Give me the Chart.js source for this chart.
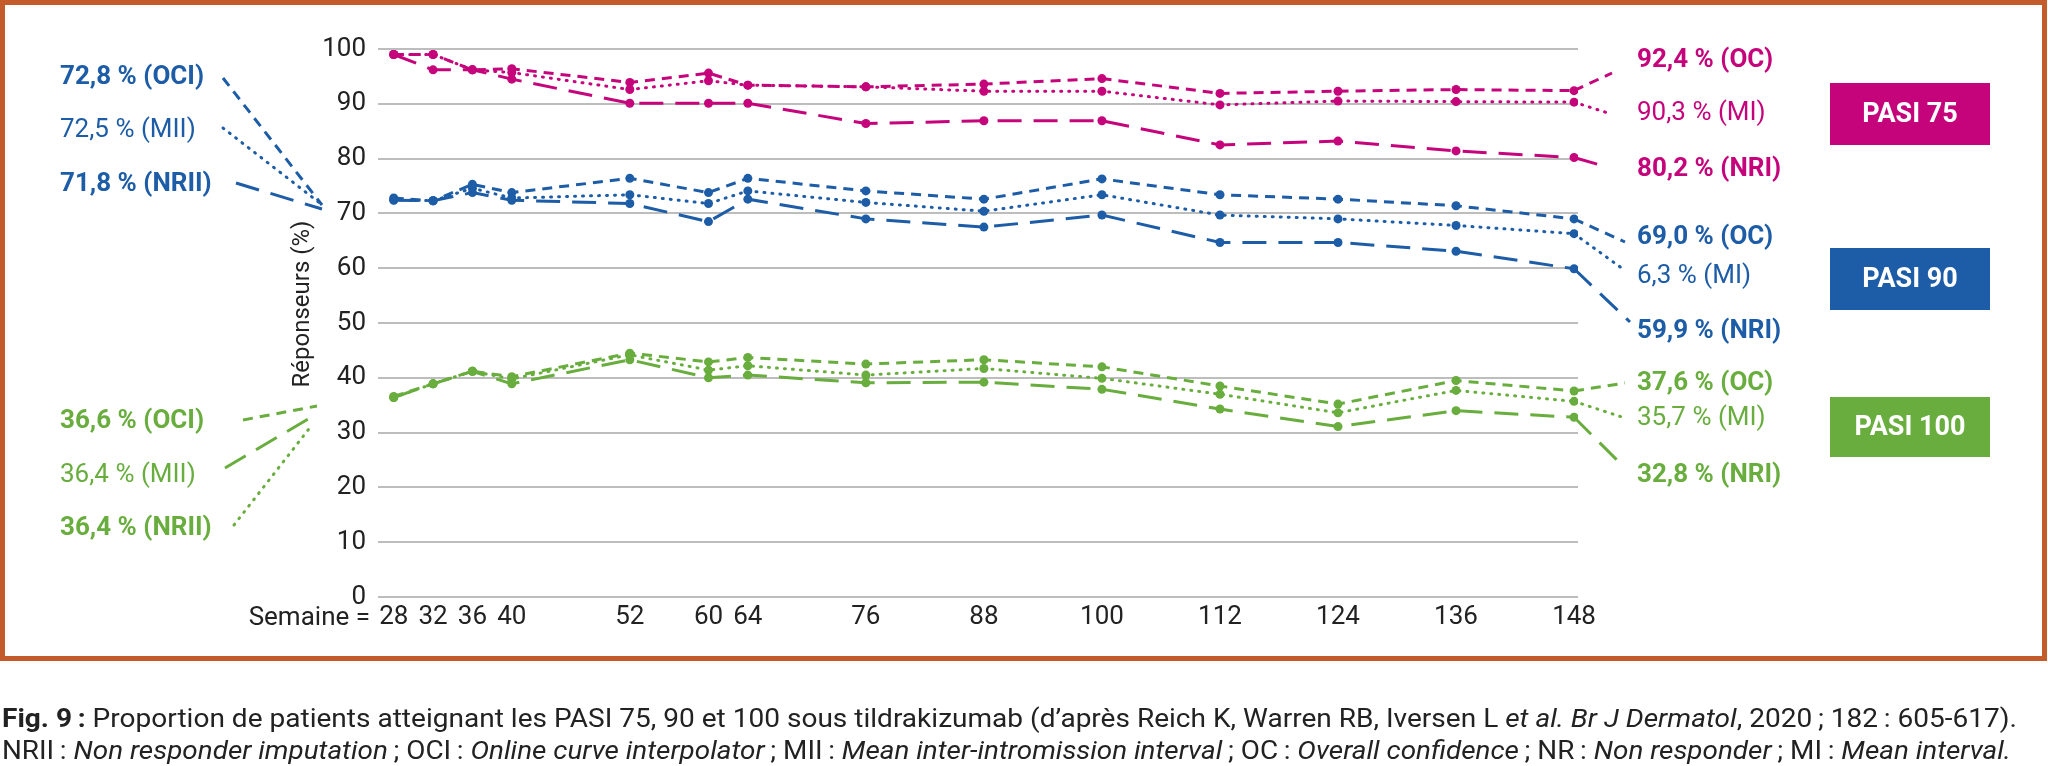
<!DOCTYPE html>
<html><head><meta charset="utf-8">
<script src="https://cdn.jsdelivr.net/npm/chart.js@4.4.1/dist/chart.umd.min.js"></script>
<style>html,body{margin:0;padding:0;background:#fff;overflow:hidden}#wrap{width:2048px;height:766px;position:relative}</style>
</head><body><div id="wrap"><canvas id="c" width="2048" height="766"></canvas></div>
<script>
// ---------- DATA ----------
const weeks = [28, 32, 36, 40, 52, 60, 64, 76, 88, 100, 112, 124, 136, 148];

const pasi75_OC  = [99.0, 99.0, 96.2, 96.4, 93.9, 95.6, 93.4, 93.1, 93.6, 94.6, 91.9, 92.3, 92.6, 92.4];
const pasi75_MI  = [99.0, 99.0, 96.2, 95.7, 92.6, 94.2, 93.4, 93.1, 92.3, 92.3, 89.8, 90.5, 90.4, 90.3];
const pasi75_NRI = [99.0, 96.2, 96.2, 94.5, 90.1, 90.1, 90.1, 86.4, 86.9, 86.9, 82.5, 83.2, 81.4, 80.2];

const pasi90_OC  = [72.8, 72.3, 75.3, 73.8, 76.4, 73.8, 76.4, 74.1, 72.6, 76.3, 73.4, 72.6, 71.4, 69.0];
const pasi90_MI  = [72.5, 72.3, 74.6, 72.8, 73.4, 71.8, 74.1, 72.0, 70.4, 73.4, 69.7, 69.0, 67.8, 66.3];
const pasi90_NRI = [72.4, 72.3, 73.8, 72.4, 71.8, 68.5, 72.6, 69.0, 67.5, 69.7, 64.7, 64.7, 63.1, 59.9];

const pasi100_OC  = [36.6, 38.9, 41.2, 40.2, 44.5, 42.9, 43.7, 42.5, 43.3, 42.0, 38.5, 35.2, 39.5, 37.6];
const pasi100_MI  = [36.4, 38.9, 41.2, 39.8, 44.2, 41.4, 42.2, 40.5, 41.7, 39.9, 37.0, 33.6, 37.7, 35.7];
const pasi100_NRI = [36.4, 38.9, 41.2, 38.9, 43.3, 40.0, 40.5, 39.1, 39.2, 37.9, 34.3, 31.1, 34.0, 32.8];

const yTickMin = 0, yTickMax = 100, yTickStep = 10;
const xAxisPrefix = 'Semaine =';
const yAxisTitle = 'Réponseurs (%)';

const rightLabels75  = ['92,4 % (OC)', '90,3 % (MI)', '80,2 % (NRI)'];
const rightLabels90  = ['69,0 % (OC)', '6,3 % (MI)', '59,9 % (NRI)'];
const rightLabels100 = ['37,6 % (OC)', '35,7 % (MI)', '32,8 % (NRI)'];
const leftLabels90   = ['72,8 % (OCI)', '72,5 % (MII)', '71,8 % (NRII)'];
const leftLabels100  = ['36,6 % (OCI)', '36,4 % (MII)', '36,4 % (NRII)'];
const boxLabels      = ['PASI 75', 'PASI 90', 'PASI 100'];

// ---------- STYLE ----------
const C75 = '#C5047C', C90 = '#1D5CA6', C100 = '#68AD3D';
const FONT = 'Roboto, "Liberation Sans", sans-serif';
const DASH = { OC: [10, 7], MI: [1, 7], NRI: [24, 12] };
const CAP  = { OC: 'butt', MI: 'round', NRI: 'butt' };

function ds(arr, color, kind) {
  return {
    data: weeks.map((w, i) => ({ x: w, y: arr[i] })),
    borderColor: color, backgroundColor: color,
    pointBackgroundColor: color, pointBorderColor: color,
    borderWidth: 3, borderDash: DASH[kind], borderCapStyle: CAP[kind],
    pointRadius: 4.5, pointBorderWidth: 0, pointHoverRadius: 4.5,
    tension: 0, fill: false
  };
}

const seriesGroups = [
  { color: C75,  sets: [pasi75_OC, pasi75_MI, pasi75_NRI] },
  { color: C90,  sets: [pasi90_OC, pasi90_MI, pasi90_NRI] },
  { color: C100, sets: [pasi100_OC, pasi100_MI, pasi100_NRI] }
];
const kinds = ['OC', 'MI', 'NRI'];
const datasets = [];
seriesGroups.forEach(g => g.sets.forEach((a, k) => datasets.push(ds(a, g.color, kinds[k]))));

// right leader end points & label positions
const rightEnds = [
  [[1612, 73], [1608, 113], [1607, 167]],
  [[1625, 242], [1623, 269], [1630, 322]],
  [[1625, 383], [1625, 418], [1625, 468]]
];
const rightLabelY = [[60, 113, 169], [237, 276, 331], [383, 418, 475]];
const leftLabelY = [[77, 130, 184], [421, 475, 528]];
const leftLines = [
  [{ k: 'OC', a: [223, 78], b: [322, 205] }, { k: 'MI', a: [223, 128], b: [321, 204] }, { k: 'NRI', a: [236, 183], b: [322, 209] }],
  [{ k: 'OC', a: [243, 420], b: [317, 406] }, { k: 'NRI', a: [225, 468], b: [310, 418] }, { k: 'MI', a: [234, 525], b: [312, 425] }]
];
const boxes = [[1830, 83, 160, 62], [1830, 248, 160, 62], [1830, 397, 160, 60]];

const captionLines = [
  [{ t: 'Fig. 9\u2009: ', b: true }, { t: 'Proportion de patients atteignant les PASI 75, 90 et 100 sous tildrakizumab (d’après Reich K, Warren RB, Iversen L ' }, { t: 'et al. Br J Dermatol', i: true }, { t: ', 2020\u2009; 182\u2009: 605-617).' }],
  [{ t: 'NRII\u2009: ' }, { t: 'Non responder imputation', i: true }, { t: '\u2009; OCI\u2009: ' }, { t: 'Online curve interpolator', i: true }, { t: '\u2009; MII\u2009: ' }, { t: 'Mean inter-intromission interval', i: true }, { t: '\u2009; OC\u2009: ' }, { t: 'Overall confidence', i: true }, { t: '\u2009; NR\u2009: ' }, { t: 'Non responder', i: true }, { t: '\u2009; MI\u2009: ' }, { t: 'Mean interval.', i: true }]
];

function line(ctx, a, b, kind, color) {
  ctx.save();
  ctx.strokeStyle = color; ctx.lineWidth = 3;
  ctx.setLineDash(DASH[kind]); ctx.lineCap = CAP[kind];
  ctx.beginPath(); ctx.moveTo(a[0], a[1]); ctx.lineTo(b[0], b[1]); ctx.stroke();
  ctx.restore();
}

const deco = {
  id: 'deco',
  afterDraw(chart) {
    const ctx = chart.ctx, xs = chart.scales.x, ys = chart.scales.y;
    ctx.save();
    // frame
    ctx.strokeStyle = '#C45B2B'; ctx.lineWidth = 5;
    ctx.strokeRect(2.5, 2.5, 2042, 656);

    // y title
    ctx.save();
    ctx.translate(303, 304); ctx.rotate(-Math.PI / 2);
    ctx.fillStyle = '#222'; ctx.font = '24px ' + FONT;
    ctx.textAlign = 'center'; ctx.textBaseline = 'middle';
    ctx.fillText(yAxisTitle, 0, 0);
    ctx.restore();

    // x prefix
    ctx.fillStyle = '#222'; ctx.font = '26px ' + FONT;
    ctx.textAlign = 'right'; ctx.textBaseline = 'middle';
    ctx.fillText(xAxisPrefix, 370, 618);

    // right leaders & labels
    const lastX = xs.getPixelForValue(weeks[weeks.length - 1]);
    const rl = [rightLabels75, rightLabels90, rightLabels100];
    seriesGroups.forEach((g, gi) => {
      g.sets.forEach((arr, k) => {
        const y0 = ys.getPixelForValue(arr[arr.length - 1]);
        line(ctx, [lastX, y0], rightEnds[gi][k], kinds[k], g.color);
        ctx.fillStyle = g.color;
        ctx.font = (k === 1 ? '400 ' : '700 ') + '26px ' + FONT;
        ctx.textAlign = 'left'; ctx.textBaseline = 'middle';
        ctx.fillText(rl[gi][k], 1637, rightLabelY[gi][k]);
      });
    });

    // left labels & leaders
    [[leftLabels90, C90], [leftLabels100, C100]].forEach(([labs, col], li) => {
      labs.forEach((t, k) => {
        ctx.fillStyle = col;
        ctx.font = (k === 1 ? '400 ' : '700 ') + '26px ' + FONT;
        ctx.textAlign = 'left'; ctx.textBaseline = 'middle';
        ctx.fillText(t, 60, leftLabelY[li][k]);
      });
      leftLines[li].forEach(l => line(ctx, l.a, l.b, l.k, col));
    });

    // boxes
    [C75, C90, C100].forEach((col, i) => {
      const b = boxes[i];
      ctx.fillStyle = col; ctx.fillRect(b[0], b[1], b[2], b[3]);
      ctx.fillStyle = '#fff'; ctx.font = '700 27px ' + FONT;
      ctx.textAlign = 'center'; ctx.textBaseline = 'middle';
      ctx.fillText(boxLabels[i], b[0] + b[2] / 2, b[1] + b[3] / 2 + 1);
    });

    // caption
    const targets = [[2, 2017, 721], [2, 2011, 753]];
    captionLines.forEach((runs, li) => {
      const fontOf = r => (r.i ? 'italic ' : '') + (r.b ? '700 ' : '400 ') + '25px ' + FONT;
      let total = 0;
      runs.forEach(r => { ctx.font = fontOf(r); total += ctx.measureText(r.t).width; });
      const [x0, x1, y] = targets[li];
      const sc = (x1 - x0) / total;
      ctx.save();
      ctx.translate(x0, y); ctx.scale(sc, 1);
      let x = 0;
      ctx.fillStyle = '#222'; ctx.textAlign = 'left'; ctx.textBaseline = 'middle';
      runs.forEach(r => { ctx.font = fontOf(r); ctx.fillText(r.t, x, 0); x += ctx.measureText(r.t).width; });
      ctx.restore();
    });
    ctx.restore();
  }
};

new Chart(document.getElementById('c'), {
  type: 'line',
  data: { datasets },
  options: {
    responsive: false, animation: false, devicePixelRatio: 1,
    layout: { padding: { left: 0, right: 470, top: 49, bottom: 0 } },
    plugins: { legend: { display: false }, tooltip: { enabled: false } },
    elements: { line: { borderJoinStyle: 'miter' } },
    scales: {
      x: {
        type: 'linear', min: 26.4, max: 148.4,
        grid: { display: false, drawTicks: false }, border: { display: false },
        ticks: { font: { family: FONT, size: 26 }, color: '#222', padding: 5, autoSkip: false, maxRotation: 0, minRotation: 0, callback: v => String(v) },
        afterBuildTicks: s => { s.ticks = weeks.map(v => ({ value: v })); },
        afterFit: s => { s.height = 766 - 597; }
      },
      y: {
        min: yTickMin, max: yTickMax,
        grid: { color: '#bdbdbd', lineWidth: 2, drawTicks: false }, border: { display: false },
        ticks: { stepSize: yTickStep, font: { family: FONT, size: 26 }, color: '#222', padding: 12 },
        afterFit: s => { s.width = 378; }
      }
    }
  },
  plugins: [deco]
});
</script></body></html>
